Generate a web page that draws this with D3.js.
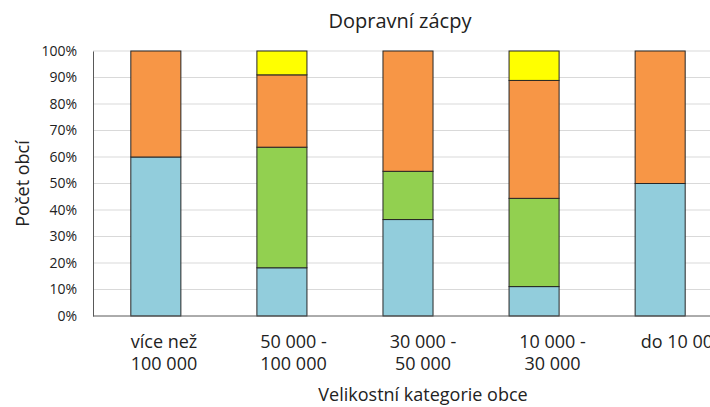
<!DOCTYPE html>
<html>
<head>
<meta charset="utf-8">
<script src="https://cdn.jsdelivr.net/npm/d3@7"></script>
<style>
  body { margin: 0; background: #fff; overflow: hidden; }
  svg { font-family: "Open Sans", sans-serif; }
</style>
</head>
<body>
<div id="chart"></div>
<script>
// Données
const categories = [["více než", "100 000"], ["50 000 -", "100 000"], ["30 000 -", "50 000"], ["10 000 -", "30 000"], ["do 10 000", ""]];
const seriesNames = ["s1", "s2", "s3", "s4"];
const s1 = [60, 18.2, 36.4, 11.1, 50];
const s2 = [0, 45.5, 18.2, 33.3, 0];
const s3 = [40, 27.3, 45.4, 44.5, 50];
const s4 = [0, 9.0, 0, 11.1, 0];
const colors = ["#92cddc", "#92d050", "#f79646", "#ffff00"];
const yTicks = [0, 10, 20, 30, 40, 50, 60, 70, 80, 90, 100];

const W = 710, H = 407;
const margin = {top: 51, left: 93, bottom: 91, right: 0};
const plotW = 630, plotH = H - margin.top - margin.bottom;

const rows = categories.map((c, i) => ({cat: i, s1: s1[i], s2: s2[i], s3: s3[i], s4: s4[i]}));

const svg = d3.select("#chart").append("svg")
    .attr("width", W).attr("height", H);

const x = d3.scaleBand().domain(d3.range(categories.length)).range([margin.left, margin.left + plotW]).paddingInner(0.603).paddingOuter(0.3);
const y = d3.scaleLinear().domain([0, 100]).range([margin.top + plotH, margin.top]);
// les étiquettes sont un peu plus espacées que les barres
const xLab = d3.scalePoint().domain(d3.range(categories.length)).range([164, 682]);

// Grille
svg.append("g").selectAll("line").data(yTicks.slice(1)).join("line")
    .attr("x1", margin.left).attr("x2", margin.left + plotW)
    .attr("y1", d => y(d)).attr("y2", d => y(d))
    .attr("stroke", "#d9d9d9").attr("stroke-width", 1);

// Axe Y
const yAxis = svg.append("g").attr("transform", `translate(${margin.left},0)`)
    .call(d3.axisLeft(y).tickValues(yTicks).tickFormat(d => d + "%").tickSize(0).tickPadding(16));
yAxis.select(".domain").attr("stroke", "#595959");
yAxis.selectAll("text").attr("font-size", 14).attr("fill", "#222").attr("font-family", "'Open Sans', sans-serif");

// Barres empilées
const stack = d3.stack().keys(seriesNames)(rows);
svg.append("g").selectAll("g").data(stack).join("g")
    .attr("fill", (d, i) => colors[i])
    .selectAll("rect").data(d => d).join("rect")
    .attr("x", d => x(d.data.cat))
    .attr("width", x.bandwidth())
    .attr("y", d => y(d[1]))
    .attr("height", d => y(d[0]) - y(d[1]))
    .attr("stroke", d => (d[1] - d[0]) > 0 ? "#262626" : "none")
    .attr("stroke-width", 1);

// Axe X
svg.append("line")
    .attr("x1", margin.left).attr("x2", margin.left + plotW)
    .attr("y1", y(0)).attr("y2", y(0))
    .attr("stroke", "#595959");

const xl = svg.append("g").selectAll("text").data(categories).join("text")
    .attr("x", (d, i) => xLab(i))
    .attr("y", y(0) + 32)
    .attr("text-anchor", "middle")
    .attr("fill", "#222")
    .attr("font-size", 18);
xl.append("tspan").attr("x", (d, i) => xLab(i)).text(d => d[0]);
xl.append("tspan").attr("x", (d, i) => xLab(i)).attr("dy", 22).text(d => d[1]);

// Titres
svg.append("text").attr("x", 400).attr("y", 28).attr("text-anchor", "middle")
    .attr("fill", "#222").attr("font-size", 20).text("Dopravní zácpy");
svg.append("text").attr("x", 423).attr("y", 401).attr("text-anchor", "middle")
    .attr("fill", "#222").attr("font-size", 18).text("Velikostní kategorie obce");
svg.append("text").attr("transform", `translate(29,${(y(0) + y(100)) / 2}) rotate(-90)`)
    .attr("fill", "#222").attr("text-anchor", "middle").attr("font-size", 18).text("Počet obcí");
</script>
</body>
</html>
